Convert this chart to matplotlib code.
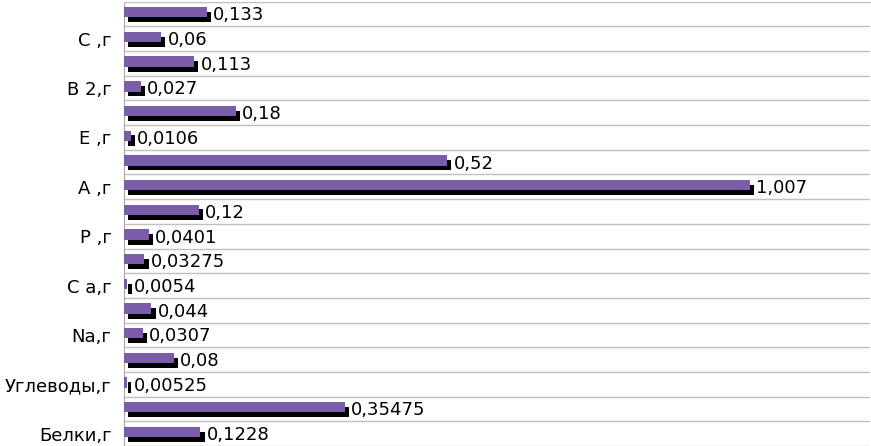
import matplotlib
matplotlib.use("Agg")
import matplotlib.pyplot as plt
import matplotlib.patheffects as pe
import numpy as np

# bottom -> top, as in the chart
labels = ["Белки,г", "", "Углеводы,г", "", "Na,г", "", "С а,г", "",
          "Р ,г", "", "А ,г", "", "Е ,г", "", "В 2,г", "", "С ,г", ""]
values = [0.1228, 0.35475, 0.00525, 0.08, 0.0307, 0.044, 0.0054, 0.03275,
          0.0401, 0.12, 1.007, 0.52, 0.0106, 0.18, 0.027, 0.113, 0.06, 0.133]

BAR = "#7B5CA8"
GRID = "#C0C0C0"

fig = plt.figure(figsize=(8.71, 4.46), dpi=100)
ax = fig.add_axes([124 / 871, 0.0, 1 - 125 / 871, 1 - 1.7 / 446])

y = np.arange(len(values))
shadow = [pe.SimplePatchShadow(offset=(3, -3.5), shadow_rgbFace="black", alpha=1.0),
          pe.Normal()]
ax.barh(y + 0.07, values, height=0.42, color=BAR, path_effects=shadow, zorder=3)

for yi, v in zip(y, values):
    ax.annotate(str(v).replace(".", ","), (v, yi), xytext=(4.5, -1),
                textcoords="offset points", va="center", ha="left",
                fontsize=13, color="black", zorder=4)

ax.set_xlim(0, 1.2)
ax.set_ylim(-0.5, len(values) - 0.5)
ax.set_yticks(y)
ax.set_yticklabels(labels, fontsize=13)
ax.tick_params(axis="y", length=0, pad=9)
ax.set_yticks(np.arange(len(values) + 1) - 0.5, minor=True)
ax.tick_params(axis="y", which="minor", length=0)
ax.grid(True, axis="y", which="minor", color=GRID, linewidth=1, zorder=0)
ax.xaxis.set_visible(False)
for s in ["right", "bottom"]:
    ax.spines[s].set_visible(False)
ax.spines["top"].set_color(GRID)
ax.spines["left"].set_color("#A6A6A6")

fig.savefig("out.png", dpi=100)
